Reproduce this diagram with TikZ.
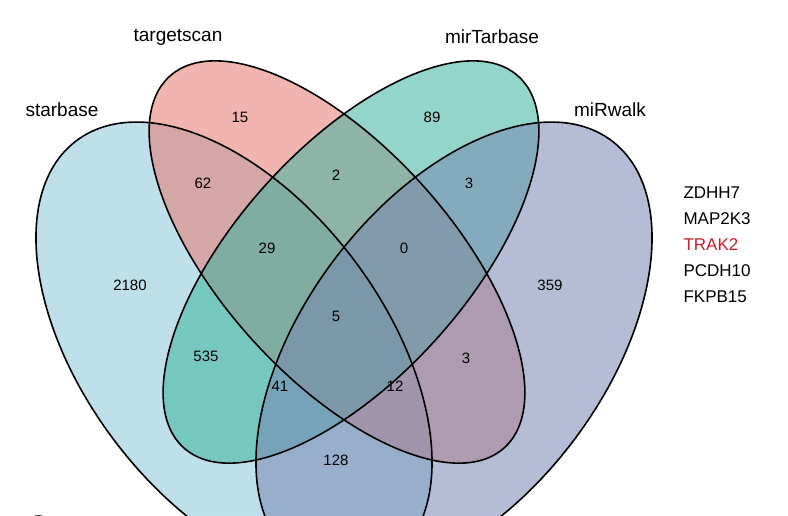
\documentclass[tikz,border=0pt]{standalone}
\usepackage{fontspec}
\setmainfont{Liberation Sans}
\begin{document}
\begin{tikzpicture}[x=1pt,y=-1pt]
  \tikzstyle{set}=[fill opacity=0.55]
  \tikzstyle{rim}=[draw=black,line width=1.6pt]
  \tikzstyle{count}=[font=\fontsize{15}{17}\selectfont]
  \tikzstyle{setname}=[font=\fontsize{19}{21}\selectfont]
  \tikzstyle{gene}=[font=\fontsize{17}{19}\selectfont,anchor=west]
  \clip (0,0) rectangle (788,515);
  \fill[white] (0,0) rectangle (788,515);
  % the four sets
  \fill[set,fill={rgb,255:red,140;green,200;blue,220}] (234,350) ellipse[x radius=262,y radius=150,rotate=-53];
  \fill[set,fill={rgb,255:red,230;green,120;blue,110}] (337,262) ellipse[x radius=250,y radius=115,rotate=-48];
  \fill[set,fill={rgb,255:red,60;green,180;blue,160}] (351,262) ellipse[x radius=250,y radius=115,rotate=48];
  \fill[set,fill={rgb,255:red,120;green,135;blue,180}] (454,350) ellipse[x radius=262,y radius=150,rotate=53];
  \draw[rim] (234,350) ellipse[x radius=262,y radius=150,rotate=-53];
  \draw[rim] (337,262) ellipse[x radius=250,y radius=115,rotate=-48];
  \draw[rim] (351,262) ellipse[x radius=250,y radius=115,rotate=48];
  \draw[rim] (454,350) ellipse[x radius=262,y radius=150,rotate=53];
  % set names
  \node[setname] (starbase) at (62,110) {starbase};
  \node[setname] (targetscan) at (178,37) {targetscan};
  \node[setname] (mirtarbase) at (492,37) {mirTarbase};
  \node[setname] (mirwalk) at (610,110) {miRwalk};
  % counts
  \node[count] (n1) at (240,117) {15};
  \node[count] (n2) at (432,117) {89};
  \node[count] (n3) at (203,183) {62};
  \node[count] (n4) at (336,175) {2};
  \node[count] (n5) at (469,183) {3};
  \node[count] (n6) at (267,248) {29};
  \node[count] (n7) at (404,248) {0};
  \node[count] (n8) at (130,285) {2180};
  \node[count] (n9) at (550,285) {359};
  \node[count] (n10) at (336,316) {5};
  \node[count] (n11) at (206,356) {535};
  \node[count] (n12) at (466,358) {3};
  \node[count] (n13) at (280,386) {41};
  \node[count] (n14) at (395,386) {12};
  \node[count] (n15) at (336,460) {128};
  % genes
  \node[gene] (g1) at (680,193) {ZDHH7};
  \node[gene] (g2) at (680,219) {MAP2K3};
  \node[gene,text={rgb,255:red,200;green,30;blue,40}] (g3) at (680,245) {TRAK2};
  \node[gene] (g4) at (680,271) {PCDH10};
  \node[gene] (g5) at (680,297) {FKPB15};
  \node[font=\bfseries\fontsize{34}{36}\selectfont] (panel) at (38,528) {C};
\end{tikzpicture}
\end{document}
